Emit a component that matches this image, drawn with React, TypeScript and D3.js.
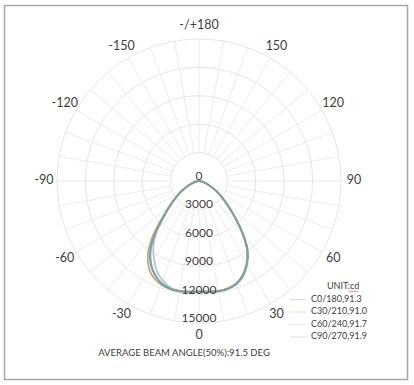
import * as d3 from 'd3'
import React from 'react'

// candela distribution, angle 0 = straight down
const angles = [-90, -85, -80, -75, -70, -65, -60, -55, -50, -45, -40, -35, -30, -25, -20, -15, -10, -5, 0,
  5, 10, 15, 20, 25, 30, 35, 40, 45, 50, 55, 60, 65, 70, 75, 80, 85, 90]

const c0 = [0, 100, 280, 560, 900, 1400, 2100, 2900, 3900, 5300, 7200, 9000, 10200, 11000, 11550, 11800, 11850, 11750, 11700,
  11750, 11850, 11800, 11550, 11000, 10100, 8900, 7100, 5300, 3900, 2900, 2100, 1400, 900, 550, 280, 100, 0]
const c30 = [0, 100, 290, 580, 950, 1450, 2200, 3000, 4050, 5500, 7600, 9400, 10600, 11300, 11650, 11800, 11800, 11700, 11650,
  11700, 11800, 11750, 11500, 10950, 10050, 8850, 7050, 5250, 3850, 2850, 2050, 1350, 880, 530, 270, 100, 0]
const c60 = [0, 90, 260, 540, 880, 1350, 2050, 2850, 3800, 5100, 6900, 8400, 9500, 10500, 11200, 11650, 11800, 11750, 11700,
  11750, 11800, 11800, 11600, 11100, 10200, 9000, 7200, 5350, 3950, 2950, 2100, 1400, 900, 550, 280, 100, 0]
const c90 = [0, 100, 270, 550, 900, 1400, 2100, 2900, 3900, 5250, 7100, 8900, 10100, 10950, 11500, 11750, 11800, 11750, 11700,
  11750, 11800, 11750, 11500, 10950, 10100, 8950, 7150, 5350, 3950, 2950, 2100, 1400, 900, 550, 280, 100, 0]

const seriesNames = ['C0/180,91.3', 'C30/210,91.0', 'C60/240,91.7', 'C90/270,91.9']
const seriesColors = ['#7d9ea0', '#caa77b', '#a9c9e2', '#93ab9f']
const seriesValues = [c0, c30, c60, c90]

const radialTicks = [0, 3000, 6000, 9000, 12000, 15000]
const angleLabels = [
  { a: -180, t: '-/+180' }, { a: -150, t: '-150' }, { a: -120, t: '-120' }, { a: -90, t: '-90' },
  { a: -60, t: '-60' }, { a: -30, t: '-30' }, { a: 0, t: '0' }, { a: 30, t: '30' },
  { a: 60, t: '60' }, { a: 90, t: '90' }, { a: 120, t: '120' }, { a: 150, t: '150' }
]
const spokes = [0, 10, 20, 30, 40, 50, 60, 70, 80, 90, 100, 110, 120, 130, 140, 150, 160, 170,
  180, 190, 200, 210, 220, 230, 240, 250, 260, 270, 280, 290, 300, 310, 320, 330, 340, 350]

const W = 414, H = 385
const cx = 199, cy = 181, R = 142
const font = 'Lato, "Open Sans", sans-serif'

export default function App() {
  const r = d3.scaleLinear().domain([0, 15000]).range([0, R])
  // d3 radial angle: 0 is up, clockwise. our 0 is down, positive to the right
  const toRad = (deg: number) => Math.PI - (deg * Math.PI) / 180

  const line = d3.lineRadial<number>()
    .angle((d, i) => toRad(angles[i]))
    .radius(d => r(d))
    .curve(d3.curveCatmullRom)

  const pos = (deg: number, rad: number) => {
    const a = (deg * Math.PI) / 180
    return [cx + rad * Math.sin(a), cy + rad * Math.cos(a)]
  }

  const order = [2, 3, 1, 0]

  return (
    <svg width={W} height={H} style={{ position: 'fixed', left: 0, top: 0, background: '#fff' }}>
      <rect x={4.5} y={5.5} width={403} height={374} fill="#fff" stroke="#a6a6a6" strokeWidth={1.5} />

      <g className="grid">
        {spokes.map(s => {
          const [x1, y1] = pos(s, r(3000))
          const [x2, y2] = pos(s, R)
          return <line key={s} x1={x1} y1={y1} x2={x2} y2={y2} stroke="#ececec" strokeWidth={1} />
        })}
        {radialTicks.slice(1).map(t => (
          <circle key={t} cx={cx} cy={cy} r={r(t)} fill="none" stroke="#e6e6e6" strokeWidth={1} />
        ))}
      </g>

      <g transform={`translate(${cx},${cy})`}>
        {order.map(i => (
          <path key={i} d={line(seriesValues[i]) || ''} fill="none" stroke={seriesColors[i]} strokeWidth={1.8} />
        ))}
      </g>

      <g fontFamily={font} fontSize={12} fill="#404040" textAnchor="middle">
        {radialTicks.map(t => (
          <text key={t} x={cx} y={cy + r(t) - 4} dominantBaseline="middle">{t}</text>
        ))}
        {angleLabels.map(l => {
          const [x, y] = pos(l.a, 155)
          return <text key={l.a} x={x} y={y} dominantBaseline="middle" fontSize={12.5}>{l.t}</text>
        })}
      </g>

      <g fontFamily={font} fontSize={9} fill="#404040">
        <text x={327} y={287} dominantBaseline="middle">UNIT:cd</text>
        <path d="M349,292 l1.5,-1 l1.5,1 l1.5,-1 l1.5,1 l1.5,-1 l1.5,1" fill="none" stroke="#e04040" strokeWidth={0.7} />
        {seriesNames.map((n, i) => (
          <g key={n}>
            <line x1={290} x2={306} y1={299.5 + i * 12.5} y2={299.5 + i * 12.5} stroke={seriesColors[i]} strokeOpacity={0.35} strokeWidth={1} />
            <text x={311} y={299.5 + i * 12.5} dominantBaseline="middle">{n}</text>
          </g>
        ))}
        <text x={184} y={354} textAnchor="middle" fontSize={9.5} dominantBaseline="middle">AVERAGE BEAM ANGLE(50%):91.5 DEG</text>
      </g>
    </svg>
  )
}
